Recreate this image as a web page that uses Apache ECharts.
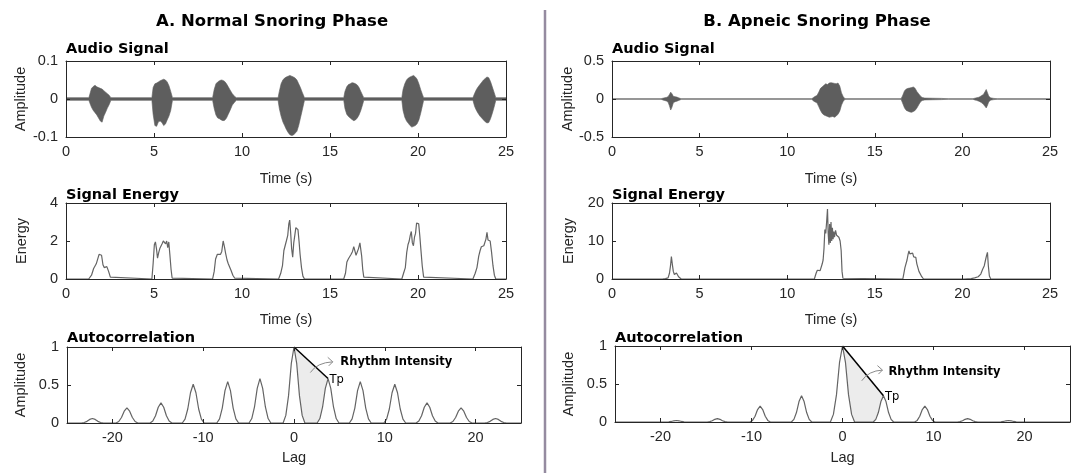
<!DOCTYPE html>
<html><head><meta charset="utf-8">
<script src="https://cdn.jsdelivr.net/npm/echarts@6/dist/echarts.min.js"></script>
<style>html,body{margin:0;padding:0;background:#fff}#c{width:1080px;height:473px}</style>
</head><body><div id="c"></div>
<script>
// ---------------- DATA ----------------
const timeTicks = [0, 5, 10, 15, 20, 25];
const lagTicks = [-20, -10, 0, 10, 20];
const panelTitles = ['A. Normal Snoring Phase', 'B. Apneic Snoring Phase'];
const subTitles = ['Audio Signal', 'Signal Energy', 'Autocorrelation'];

// audio envelope [time, upper, lower]
const audioA = [
 [0,.0035,-.0035],[1.3,.0035,-.0035],[1.35,.012,-.01],[1.45,.028,-.022],[1.55,.033,-.03],[1.65,.036,-.036],[1.75,.032,-.042],[1.85,.03,-.05],[1.95,.028,-.058],[2.05,.026,-.061],[2.15,.022,-.045],[2.25,.018,-.035],[2.35,.014,-.024],[2.45,.01,-.015],[2.55,.0035,-.0035],
 [4.88,.0035,-.0035],[4.95,.03,-.04],[5.05,.04,-.07],[5.15,.042,-.072],[5.25,.045,-.06],[5.35,.048,-.058],[5.45,.05,-.062],[5.55,.052,-.07],[5.65,.05,-.066],[5.75,.045,-.055],[5.85,.035,-.045],[5.95,.02,-.03],[6.05,.0035,-.0035],
 [8.33,.0035,-.0035],[8.42,.025,-.025],[8.52,.04,-.042],[8.62,.045,-.05],[8.72,.048,-.052],[8.82,.05,-.055],[8.92,.049,-.057],[9.02,.046,-.056],[9.12,.04,-.05],[9.22,.032,-.04],[9.32,.024,-.03],[9.45,.014,-.016],[9.6,.006,-.007],[9.68,.0035,-.0035],
 [12.05,.0035,-.0035],[12.12,.02,-.025],[12.22,.04,-.045],[12.32,.05,-.06],[12.42,.055,-.07],[12.52,.058,-.08],[12.62,.06,-.088],[12.72,.062,-.094],[12.82,.06,-.096],[12.92,.058,-.095],[13.02,.055,-.09],[13.12,.05,-.085],[13.22,.04,-.07],[13.32,.03,-.05],[13.42,.018,-.03],[13.55,.0035,-.0035],
 [15.78,.0035,-.0035],[15.85,.02,-.025],[15.95,.032,-.04],[16.05,.038,-.046],[16.15,.04,-.05],[16.25,.043,-.054],[16.35,.042,-.057],[16.45,.04,-.055],[16.55,.037,-.05],[16.65,.03,-.042],[16.75,.02,-.03],[16.85,.01,-.015],[16.92,.0035,-.0035],
 [19.08,.0035,-.0035],[19.15,.025,-.03],[19.25,.04,-.048],[19.35,.05,-.058],[19.45,.055,-.064],[19.55,.058,-.07],[19.65,.06,-.074],[19.75,.062,-.072],[19.85,.058,-.07],[19.95,.052,-.065],[20.05,.04,-.055],[20.15,.025,-.038],[20.25,.012,-.018],[20.32,.0035,-.0035],
 [23.12,.0035,-.0035],[23.22,.015,-.02],[23.32,.025,-.03],[23.42,.032,-.038],[23.52,.038,-.045],[23.62,.044,-.05],[23.72,.05,-.055],[23.82,.054,-.06],[23.92,.058,-.063],[24.02,.056,-.062],[24.12,.046,-.052],[24.22,.032,-.038],[24.32,.018,-.022],[24.42,.0035,-.0035],[25,.0035,-.0035]
];
const audioB = [
 [0,.003,-.003],[2.8,.003,-.003],[2.9,.01,-.012],[3.0,.015,-.02],[3.1,.02,-.025],[3.2,.03,-.04],[3.28,.06,-.09],[3.35,.09,-.145],[3.42,.07,-.11],[3.5,.035,-.05],[3.6,.03,-.035],[3.7,.025,-.03],[3.8,.015,-.02],[3.9,.008,-.01],[3.97,.003,-.003],
 [11.4,.003,-.003],[11.5,.02,-.025],[11.6,.035,-.04],[11.7,.045,-.05],[11.8,.09,-.1],[11.9,.14,-.15],[12.0,.16,-.19],[12.1,.18,-.21],[12.2,.2,-.22],[12.3,.19,-.23],[12.4,.21,-.24],[12.5,.215,-.235],[12.6,.21,-.23],[12.7,.205,-.24],[12.8,.2,-.225],[12.9,.21,-.2],[13.0,.17,-.16],[13.1,.08,-.08],[13.2,.03,-.03],[13.3,.003,-.003],
 [16.5,.003,-.003],[16.58,.04,-.05],[16.7,.11,-.12],[16.8,.13,-.15],[16.9,.14,-.16],[17.0,.145,-.17],[17.1,.15,-.175],[17.2,.158,-.165],[17.3,.14,-.15],[17.4,.1,-.12],[17.5,.07,-.08],[17.6,.04,-.04],[17.7,.02,-.02],[17.85,.012,-.012],[18.3,.01,-.01],[18.8,.008,-.008],[19.2,.003,-.003],
 [20.6,.003,-.003],[20.7,.01,-.012],[20.8,.015,-.018],[20.9,.02,-.025],[21.0,.03,-.035],[21.1,.045,-.05],[21.2,.06,-.07],[21.3,.1,-.1],[21.36,.125,-.117],[21.42,.09,-.09],[21.5,.04,-.04],[21.6,.015,-.015],[21.8,.008,-.008],[22.0,.003,-.003],[25,.003,-.003]
];

// signal energy [time, energy]
const energyA = [
 [0,0],[1.29,0],[1.45,0.2],[1.57,0.55],[1.65,0.45],[1.72,0.8],[1.8,0.85],[1.88,1.3],[1.95,1.4],[2.02,1.25],[2.1,0.75],[2.17,0.6],[2.25,0.7],[2.32,0.65],[2.42,0.4],[2.52,0.1],[2.6,0],
 [4.88,0],[4.95,0.8],[5.02,1.8],[5.08,1.95],[5.14,1.6],[5.2,1.1],[5.27,1.4],[5.33,1.6],[5.4,1.5],[5.46,1.85],[5.53,2.0],[5.6,2.1],[5.66,1.85],[5.72,2.0],[5.78,1.65],[5.84,1.95],[5.9,1.3],[5.97,0.5],[6.03,0.05],[6.08,0],
 [8.33,0],[8.42,0.4],[8.5,1.05],[8.6,1.3],[8.7,1.35],[8.78,1.3],[8.85,1.45],[8.93,2.0],[9.0,1.7],[9.07,1.35],[9.15,1.0],[9.22,0.8],[9.3,0.7],[9.38,0.45],[9.48,0.2],[9.58,0.05],[9.68,0],
 [12.08,0],[12.2,0.3],[12.3,0.7],[12.38,1.5],[12.45,1.75],[12.52,2.0],[12.6,2.3],[12.66,2.9],[12.71,3.1],[12.76,2.5],[12.82,1.6],[12.88,1.15],[12.94,1.9],[13.0,2.3],[13.06,2.7],[13.12,2.65],[13.18,2.6],[13.24,2.0],[13.3,1.3],[13.38,0.6],[13.46,0.15],[13.55,0],
 [15.78,0],[15.88,0.3],[15.96,0.9],[16.04,1.05],[16.12,1.1],[16.2,1.3],[16.28,1.45],[16.35,1.7],[16.42,1.75],[16.48,1.25],[16.55,1.35],[16.62,1.6],[16.7,1.9],[16.75,1.95],[16.8,1.2],[16.86,0.5],[16.92,0.1],[17.0,0],
 [19.08,0],[19.18,0.3],[19.28,0.6],[19.36,1.4],[19.43,1.8],[19.5,2.0],[19.56,2.3],[19.62,2.5],[19.68,1.9],[19.74,1.75],[19.8,2.2],[19.86,2.4],[19.92,2.95],[19.98,3.0],[20.04,2.9],[20.1,2.3],[20.16,1.6],[20.24,0.7],[20.32,0.1],[20.42,0],
 [23.12,0],[23.25,0.3],[23.35,0.6],[23.45,1.2],[23.53,1.5],[23.6,1.7],[23.67,1.6],[23.74,1.75],[23.8,1.7],[23.86,2.1],[23.92,2.45],[23.98,2.05],[24.04,2.15],[24.1,2.0],[24.18,1.4],[24.26,0.7],[24.34,0.2],[24.42,0],[25,0]
];
const energyB = [
 [0,0],[2.88,0],[3.05,0.1],[3.2,0.3],[3.28,1.5],[3.34,3.5],[3.39,5.9],[3.44,4.0],[3.5,2.0],[3.56,1.2],[3.62,1.4],[3.68,1.6],[3.74,1.1],[3.8,0.6],[3.87,0.1],[3.95,0],
 [11.55,0],[11.65,1.5],[11.72,2.3],[11.8,2.5],[11.88,2.2],[11.96,2.4],[12.0,4.0],[12.05,5.0],[12.1,8.0],[12.15,13.0],[12.2,12.0],[12.25,15.0],[12.3,18.4],[12.34,12.0],[12.38,9.0],[12.42,14.5],[12.46,9.5],[12.5,15.0],[12.54,10.0],[12.58,13.5],[12.62,10.5],[12.66,12.5],[12.7,11.0],[12.76,12.8],[12.82,11.5],[12.88,12.0],[12.95,11.0],[13.02,10.0],[13.08,7.5],[13.13,2.0],[13.18,0.2],[13.25,0],
 [16.6,0],[16.66,1.5],[16.72,3.0],[16.78,2.8],[16.84,5.0],[16.9,6.5],[16.95,7.4],[17.0,6.6],[17.05,6.9],[17.1,6.3],[17.16,6.8],[17.22,5.8],[17.28,6.0],[17.34,5.7],[17.4,4.0],[17.46,3.0],[17.52,2.0],[17.6,1.6],[17.68,0.6],[17.78,0],
 [20.1,0],[20.5,0.1],[20.7,0.3],[20.9,0.6],[21.05,1.3],[21.15,2.5],[21.25,3.5],[21.32,5.0],[21.38,6.2],[21.43,7.0],[21.48,3.5],[21.54,0.8],[21.62,0],[25,0]
];

// autocorrelation [lag, amplitude]
const acfA = [
 [-25,0],
 [-23.4,0],[-23.1,.006],[-22.8,.022],[-22.5,.047],[-22.2,.06],[-21.9,.047],[-21.6,.022],[-21.3,.006],[-21.0,0],
 [-19.6,0],[-19.3,.02],[-19.0,.072],[-18.7,.156],[-18.4,.2],[-18.1,.156],[-17.8,.072],[-17.5,.02],[-17.2,0],
 [-15.85,0],[-15.55,.027],[-15.25,.095],[-14.95,.207],[-14.65,.265],[-14.35,.207],[-14.05,.095],[-13.75,.027],[-13.45,0],
 [-12.3,0],[-12.0,.051],[-11.7,.184],[-11.4,.398],[-11.1,.51],[-10.8,.398],[-10.5,.184],[-10.2,.051],[-9.9,0],
 [-8.5,0],[-8.2,.055],[-7.9,.196],[-7.6,.425],[-7.3,.545],[-7.0,.425],[-6.7,.196],[-6.4,.055],[-6.1,0],
 [-4.95,0],[-4.65,.059],[-4.35,.211],[-4.05,.456],[-3.75,.585],[-3.45,.456],[-3.15,.211],[-2.85,.059],[-2.55,0],
 [-1.2,0],[-0.9,.1],[-0.6,.36],[-0.3,.78],[0,1],[0.3,.78],[0.6,.36],[0.9,.1],[1.2,0],
 [2.55,0],[2.85,.059],[3.15,.211],[3.45,.456],[3.75,.585],[4.05,.456],[4.35,.211],[4.65,.059],[4.95,0],
 [6.1,0],[6.4,.055],[6.7,.196],[7.0,.425],[7.3,.545],[7.6,.425],[7.9,.196],[8.2,.055],[8.5,0],
 [9.9,0],[10.2,.051],[10.5,.184],[10.8,.398],[11.1,.51],[11.4,.398],[11.7,.184],[12.0,.051],[12.3,0],
 [13.45,0],[13.75,.027],[14.05,.095],[14.35,.207],[14.65,.265],[14.95,.207],[15.25,.095],[15.55,.027],[15.85,0],
 [17.2,0],[17.5,.02],[17.8,.072],[18.1,.156],[18.4,.2],[18.7,.156],[19.0,.072],[19.3,.02],[19.6,0],
 [21.0,0],[21.3,.006],[21.6,.022],[21.9,.047],[22.2,.06],[22.5,.047],[22.8,.022],[23.1,.006],[23.4,0],
 [25,0]
];
const acfB = [
 [-25,0],
 [-19.37,0],[-19.09,.002],[-18.81,.007],[-18.53,.016],[-18.25,.02],[-17.97,.016],[-17.69,.007],[-17.41,.002],[-17.13,0],
 [-14.87,0],[-14.59,.0045],[-14.31,.016],[-14.03,.035],[-13.75,.045],[-13.47,.035],[-13.19,.016],[-12.91,.0045],[-12.63,0],
 [-10.17,0],[-9.89,.021],[-9.61,.076],[-9.33,.164],[-9.05,.21],[-8.77,.164],[-8.49,.076],[-8.21,.021],[-7.93,0],
 [-5.62,0],[-5.34,.035],[-5.06,.124],[-4.78,.269],[-4.5,.345],[-4.22,.269],[-3.94,.124],[-3.66,.035],[-3.38,0],
 [-1.33,0],[-1.0,.1],[-0.66,.36],[-0.33,.78],[0,1],[0.33,.78],[0.66,.36],[1.0,.1],[1.33,0],
 [3.38,0],[3.66,.035],[3.94,.124],[4.22,.269],[4.5,.345],[4.78,.269],[5.06,.124],[5.34,.035],[5.62,0],
 [7.93,0],[8.21,.021],[8.49,.076],[8.77,.164],[9.05,.21],[9.33,.164],[9.61,.076],[9.89,.021],[10.17,0],
 [12.63,0],[12.91,.0045],[13.19,.016],[13.47,.035],[13.75,.045],[14.03,.035],[14.31,.016],[14.59,.0045],[14.87,0],
 [17.13,0],[17.41,.002],[17.69,.007],[17.97,.016],[18.25,.02],[18.53,.016],[18.81,.007],[19.09,.002],[19.37,0],
 [25,0]
];
// rhythm-intensity line: from lag 0 peak to first period peak Tp
const tpLineA = [[0, 1], [3.75, 0.585]];
const tpLineB = [[0, 1], [4.5, 0.345]];

// ---------------- STYLE / LAYOUT ----------------
const FONT = '"Liberation Sans", Arial, sans-serif';
const BOLD = '"DejaVu Sans", Verdana, sans-serif';
const AXC = '#262626', LINEC = '#646464', FILLC = '#ececec', WAVEC = '#5e5e5e';
const TICKF = 14.5;

const timeX = {min: 0, max: 25, interval: 5, name: 'Time (s)'};
const lagX = {min: -25, max: 25, custom: lagTicks, name: 'Lag'};
const panels = [
  {box: [66, 61, 440, 76],  x: Object.assign({gap: 34}, timeX), y: {min: -0.1, max: 0.1, interval: 0.1, name: 'Amplitude', gap: 38}},
  {box: [66, 203, 440, 76], x: Object.assign({gap: 33}, timeX), y: {min: 0, max: 4, interval: 2, name: 'Energy', gap: 37}},
  {box: [67, 347, 454, 76], x: Object.assign({gap: 27}, lagX),  y: {min: 0, max: 1, interval: 0.5, name: 'Amplitude', gap: 39}},
  {box: [612, 61, 438, 76], x: Object.assign({gap: 34}, timeX), y: {min: -0.5, max: 0.5, interval: 0.5, name: 'Amplitude', gap: 36}},
  {box: [612, 203, 438, 76],x: Object.assign({gap: 33}, timeX), y: {min: 0, max: 20, interval: 10, name: 'Energy', gap: 36}},
  {box: [615, 346, 455, 76],x: Object.assign({gap: 28}, lagX),  y: {min: 0, max: 1, interval: 0.5, name: 'Amplitude', gap: 39}}
];

const grids = [], xAxes = [], yAxes = [];
function axis(kind, i, p, mirror) {
  const o = {
    type: 'value', gridIndex: i, min: p.min, max: p.max, z: 5,
    position: kind === 'x' ? (mirror ? 'top' : 'bottom') : (mirror ? 'right' : 'left'),
    axisLine: {show: true, onZero: false, lineStyle: {color: AXC, width: 1}},
    axisTick: {show: true, inside: true, length: 4, lineStyle: {color: AXC, width: 1}},
    axisLabel: {show: !mirror, color: AXC, fontSize: TICKF, fontFamily: FONT, margin: kind === 'x' ? 7 : 8,
                showMinLabel: true, showMaxLabel: true},
    splitLine: {show: false}
  };
  if (p.custom) { o.axisTick.customValues = p.custom; o.axisLabel.customValues = p.custom; }
  else o.interval = p.interval;
  if (!mirror) {
    o.name = p.name; o.nameLocation = 'middle'; o.nameGap = p.gap;
    o.nameTextStyle = {color: AXC, fontSize: TICKF, fontFamily: FONT};
  }
  return o;
}
panels.forEach((p, i) => {
  grids.push({left: p.box[0], top: p.box[1], width: p.box[2], height: p.box[3], containLabel: false});
  xAxes.push(axis('x', i, p.x, false), axis('x', i, p.x, true));
  yAxes.push(axis('y', i, p.y, false), axis('y', i, p.y, true));
});

function ser(i, data, extra) {
  return Object.assign({type: 'line', xAxisIndex: 2 * i, yAxisIndex: 2 * i, data: data, showSymbol: false,
    symbol: 'none', animation: false, silent: true, smooth: false,
    lineStyle: {color: LINEC, width: 1.2}}, extra || {});
}
// audio waveform drawn as the filled band between its upper and lower envelopes
function audioSeries(i, arr) {
  return [{
    type: 'custom', xAxisIndex: 2 * i, yAxisIndex: 2 * i, silent: true, animation: false, clip: true,
    data: [0],
    renderItem: function (params, api) {
      const pts = arr.map(d => api.coord([d[0], d[1]]))
        .concat(arr.slice().reverse().map(d => api.coord([d[0], d[2]])));
      return {type: 'polygon', shape: {points: pts}, style: {fill: WAVEC, stroke: WAVEC, lineWidth: 0.6}};
    }
  }];
}
function acfSeries(i, acf, tp) {
  return [
    ser(i, tp, {lineStyle: {width: 0, color: FILLC}, areaStyle: {color: FILLC, opacity: 1, origin: 'auto'}}),
    ser(i, acf, {areaStyle: {color: '#ffffff', opacity: 1, origin: 'auto'}}),
    ser(i, tp, {lineStyle: {color: '#000000', width: 1.5}})
  ];
}
const series = [].concat(
  audioSeries(0, audioA), [ser(1, energyA)], acfSeries(2, acfA, tpLineA),
  audioSeries(3, audioB), [ser(4, energyB)], acfSeries(5, acfB, tpLineB)
);
const tpSeriesIdx = [4, 8];   // indexes of the black Tp lines

const chart = echarts.init(document.getElementById('c'), null, {renderer: 'canvas'});
const staticGraphics = [
  {type: 'line', shape: {x1: 545, y1: 10, x2: 545, y2: 473}, style: {stroke: '#958ba0', lineWidth: 2.5}, z: 10},
  {type: 'text', x: 272, y: 22, style: {text: panelTitles[0], font: 'bold 16.5px ' + BOLD, fill: '#000', align: 'center', verticalAlign: 'middle'}},
  {type: 'text', x: 817, y: 22, style: {text: panelTitles[1], font: 'bold 16.5px ' + BOLD, fill: '#000', align: 'center', verticalAlign: 'middle'}}
];
const subY = [49, 195, 338];
[[0, 1, 2], [3, 4, 5]].forEach(col => col.forEach((pi, r) => staticGraphics.push(
  {type: 'text', x: panels[pi].box[0], y: subY[r], style: {text: subTitles[r], font: 'bold 14.5px ' + BOLD, fill: '#000', align: 'left', verticalAlign: 'middle'}}
)));

chart.setOption({animation: false, backgroundColor: '#fff', grid: grids, xAxis: xAxes, yAxis: yAxes, series: series, graphic: staticGraphics});

// annotations anchored at the Tp point of each autocorrelation panel
const annot = [
  {tp: tpLineA[1], s: [-17.7, -6], c: [-11, -16], e: [4.7, -16.7], txt: [12.3, -17]},
  {tp: tpLineB[1], s: [-21.7, -15], c: [-15, -25], e: [-1, -25.7], txt: [5, -23.3]}
];
const extra = [];
annot.forEach((a, k) => {
  const P = chart.convertToPixel({seriesIndex: tpSeriesIdx[k]}, a.tp);
  const S = [P[0] + a.s[0], P[1] + a.s[1]], C = [P[0] + a.c[0], P[1] + a.c[1]], E = [P[0] + a.e[0], P[1] + a.e[1]];
  extra.push(
    {type: 'bezierCurve', shape: {x1: S[0], y1: S[1], cpx1: C[0], cpy1: C[1], x2: E[0], y2: E[1]}, style: {stroke: '#8a8a8a', lineWidth: 1, fill: null}, z: 20},
    {type: 'polyline', shape: {points: [[E[0] - 5, E[1] - 4.5], E, [E[0] - 4, E[1] + 4]]}, style: {stroke: '#8a8a8a', lineWidth: 1, fill: null}, z: 20},
    {type: 'text', x: P[0] + a.txt[0], y: P[1] + a.txt[1], style: {text: 'Rhythm Intensity', font: 'bold 11.5px ' + BOLD, fill: '#000', align: 'left', verticalAlign: 'middle'}, z: 20},
    {type: 'text', x: P[0] + 1.5, y: P[1] + 1, style: {text: 'Tp', font: '11.5px ' + BOLD, fill: '#000', align: 'left', verticalAlign: 'middle'}, z: 20}
  );
});
chart.setOption({graphic: staticGraphics.concat(extra)});
</script></body></html>
